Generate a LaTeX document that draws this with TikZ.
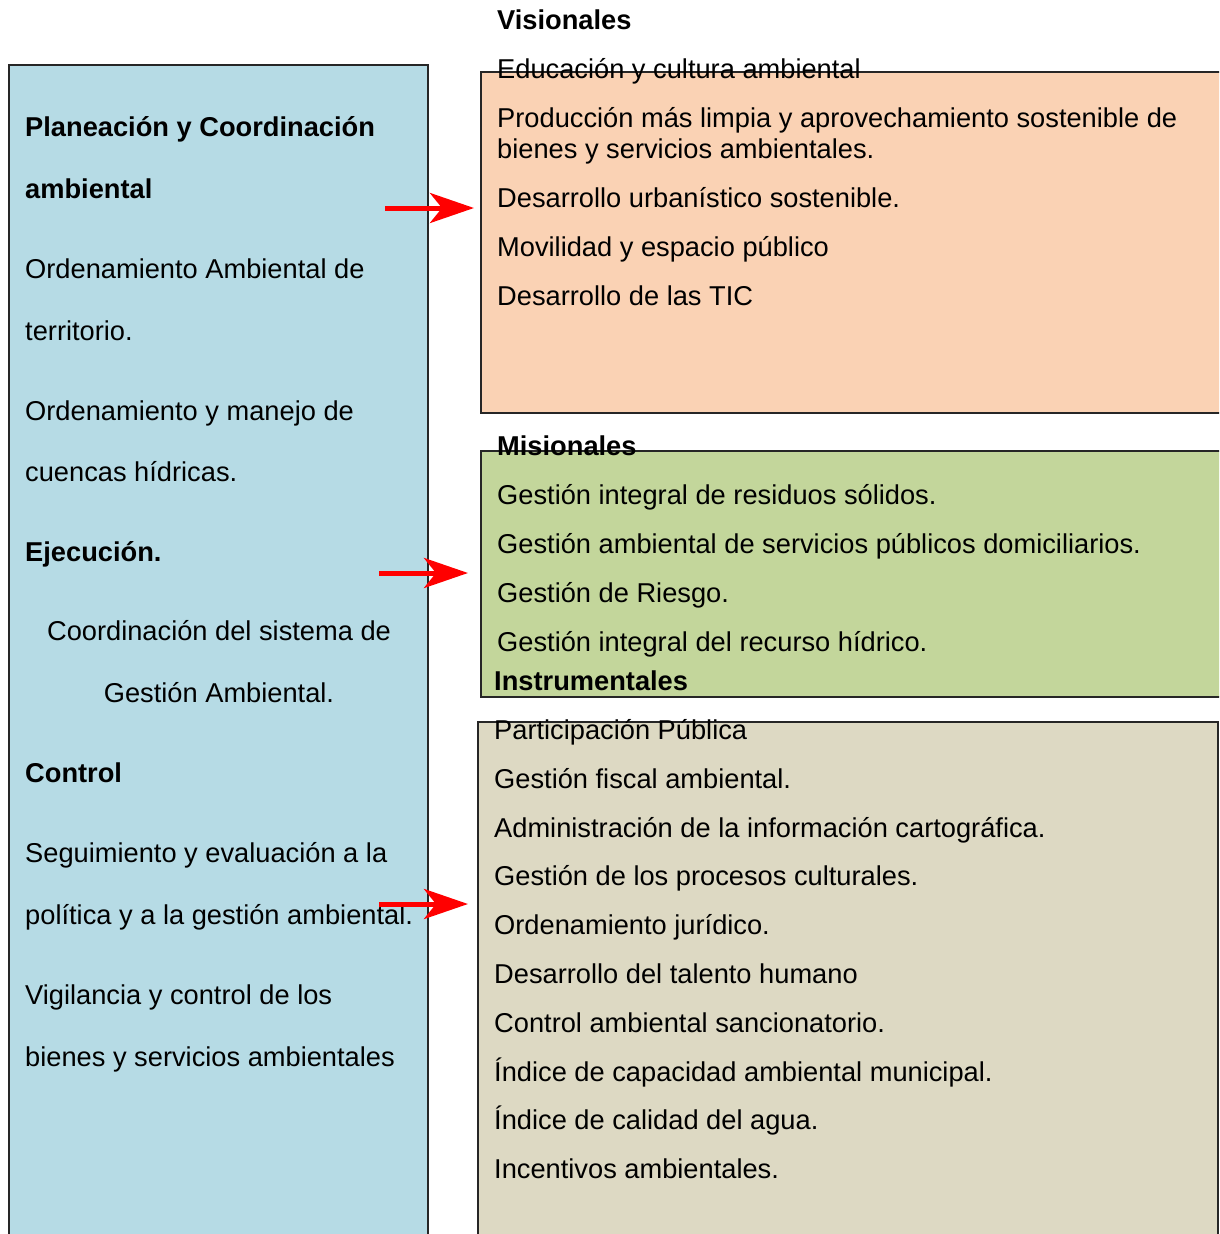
\documentclass[tikz,border=0pt]{standalone}
\usepackage{fontspec}
\setmainfont{Liberation Sans}
\usetikzlibrary{arrows.meta}
\definecolor{cblue}{HTML}{B6DBE5}
\definecolor{corange}{HTML}{FAD2B4}
\definecolor{cgreen}{HTML}{C3D69B}
\definecolor{ctan}{HTML}{DDD9C3}
\definecolor{cred}{HTML}{FF0000}
\tikzset{
  panel/.style={draw=black!85, line width=1.3pt},
  txt/.style={anchor=base west, inner sep=0pt, yshift=-1pt, font=\fontsize{27.25}{31}\selectfont},
  ctxt/.style={anchor=base, inner sep=0pt, yshift=-1pt, font=\fontsize{27.25}{31}\selectfont},
  btxt/.style={txt, font=\fontsize{27.25}{31}\selectfont\bfseries},
  redarrow/.style={draw=cred, line width=5pt, -{Stealth[length=44pt,width=30pt,inset=12pt]}}
}
\begin{document}
\begin{tikzpicture}[x=1pt,y=-1pt]
\useasboundingbox (0,0) rectangle (1219,1234);
\clip (0,0) rectangle (1219,1234);
% panels
\path[panel, fill=cblue] (9,65) rectangle (428,1245);
\path[panel, fill=corange] (481,72) rectangle (1230,413);
\path[panel, fill=cgreen] (481,451) rectangle (1230,697);
\path[panel, fill=ctan] (478,722) rectangle (1218,1245);
% left texts
\node[btxt] (l1) at (25,135) {Planeación y Coordinación};
\node[btxt] (l2) at (25,197) {ambiental};
\node[txt] (l3) at (25,277) {Ordenamiento Ambiental de};
\node[txt] (l4) at (25,339) {territorio.};
\node[txt] (l5) at (25,419) {Ordenamiento y manejo de};
\node[txt] (l6) at (25,480) {cuencas hídricas.};
\node[btxt] (l7) at (25,560) {Ejecución.};
\node[ctxt] (l8) at (219,639) {Coordinación del sistema de};
\node[ctxt] (l9) at (219,701) {Gestión Ambiental.};
\node[btxt] (l10) at (25,781) {Control};
\node[txt] (l11) at (25,861) {Seguimiento y evaluación a la};
\node[txt] (l12) at (25,923) {política y a la gestión ambiental.};
\node[txt] (l13) at (25,1003) {Vigilancia y control de los};
\node[txt] (l14) at (25,1065) {bienes y servicios ambientales};
% visionales
\node[btxt] (v0) at (497,28) {Visionales};
\node[txt] (v1) at (497,77) {Educación y cultura ambiental};
\node[txt] (v2) at (497,126) {Producción más limpia y aprovechamiento sostenible de};
\node[txt] (v3) at (497,157) {bienes y servicios ambientales.};
\node[txt] (v4) at (497,206) {Desarrollo urbanístico sostenible.};
\node[txt] (v5) at (497,255) {Movilidad y espacio público};
\node[txt] (v6) at (497,304) {Desarrollo de las TIC};
% misionales
\node[btxt] (m0) at (497,454) {Misionales};
\node[txt] (m1) at (497,503) {Gestión integral de residuos sólidos.};
\node[txt] (m2) at (497,552) {Gestión ambiental de servicios públicos domiciliarios.};
\node[txt] (m3) at (497,601) {Gestión de Riesgo.};
\node[txt] (m4) at (497,650) {Gestión integral del recurso hídrico.};
% instrumentales
\node[btxt] (i0) at (494,689) {Instrumentales};
\node[txt] (i1) at (494,738) {Participación Pública};
\node[txt] (i2) at (494,787) {Gestión fiscal ambiental.};
\node[txt] (i3) at (494,836) {Administración de la información cartográfica.};
\node[txt] (i4) at (494,884) {Gestión de los procesos culturales.};
\node[txt] (i5) at (494,933) {Ordenamiento jurídico.};
\node[txt] (i6) at (494,982) {Desarrollo del talento humano};
\node[txt] (i7) at (494,1031) {Control ambiental sancionatorio.};
\node[txt] (i8) at (494,1080) {Índice de capacidad ambiental municipal.};
\node[txt] (i9) at (494,1128) {Índice de calidad del agua.};
\node[txt] (i10) at (494,1177) {Incentivos ambientales.};
% arrows
\coordinate (a1s) at (385,208); \coordinate (a1e) at (474,208);
\coordinate (a2s) at (379,573); \coordinate (a2e) at (468,573);
\coordinate (a3s) at (379,904); \coordinate (a3e) at (468,904);
\draw[redarrow] (a1s) -- (a1e);
\draw[redarrow] (a2s) -- (a2e);
\draw[redarrow] (a3s) -- (a3e);
\end{tikzpicture}
\end{document}
